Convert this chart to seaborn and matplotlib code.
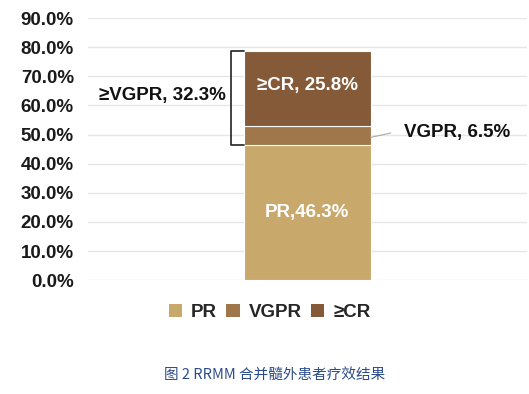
import matplotlib
matplotlib.use("Agg")
import matplotlib.pyplot as plt
import seaborn as sns
import pandas as pd

# data
categories = ["RRMM"]
pr_vals = [0.463]
vgpr_vals = [0.065]
cr_vals = [0.258]
series_names = ["PR", "VGPR", "≥CR"]
series_colors = ["#C9A86C", "#A0764B", "#855A38"]
ytick_vals = [0.0, 0.1, 0.2, 0.3, 0.4, 0.5, 0.6, 0.7, 0.8, 0.9]
caption = "图 2 RRMM 合并髓外患者疗效结果"

sns.set_theme(style="white")
plt.rcParams['font.family'] = ['Liberation Sans', 'DejaVu Sans']

fig = plt.figure(figsize=(5.29, 3.94), dpi=100)
ax = fig.add_axes([0.166, 0.289, 0.830, 0.665])

df = pd.DataFrame({"cat": categories, "PR": pr_vals, "VGPR": vgpr_vals, "CR": cr_vals})
bottoms = [0.0] * len(categories)
for col, name, color in zip(["PR", "VGPR", "CR"], series_names, series_colors):
    sns.barplot(data=df, x="cat", y=col, bottom=bottoms, color=color, width=0.29,
                saturation=1, edgecolor="white", linewidth=0.8, label=name, ax=ax)
    bottoms = [b + v for b, v in zip(bottoms, df[col])]

handles, labels = ax.get_legend_handles_labels()
if ax.get_legend() is not None:
    ax.get_legend().remove()

ax.set_ylim(0, 0.9)
ax.set_xlim(-0.5, 0.5)
ax.set_yticks(ytick_vals)
ax.set_yticklabels([f"{v*100:.1f}%" for v in ytick_vals], fontsize=13.5, fontweight="bold", color="#1A1A1A")
ax.set_xticks([])
ax.set_xlabel("")
ax.set_ylabel("")
ax.tick_params(axis="y", length=0, pad=10)
for s in ax.spines.values():
    s.set_visible(False)
ax.yaxis.grid(True, color="#E6E6E6", linewidth=1)
ax.set_axisbelow(True)

# labels inside bar
ax.text(0, pr_vals[0] / 2, f"PR,{pr_vals[0]*100:.1f}%", color="white", fontsize=13.5,
        fontweight="bold", ha="center", va="center")
ax.text(0, pr_vals[0] + vgpr_vals[0] + cr_vals[0] * 0.55, f"≥CR, {cr_vals[0]*100:.1f}%",
        color="white", fontsize=13.5, fontweight="bold", ha="center", va="center")

# VGPR label with leader line
vg_mid = pr_vals[0] + vgpr_vals[0] / 2
ax.plot([0.145, 0.19], [vg_mid - 0.005, vg_mid + 0.01], color="#AAAAAA", linewidth=0.8)
ax.text(0.22, vg_mid + 0.01, f"VGPR, {vgpr_vals[0]*100:.1f}%", fontsize=13.5,
        fontweight="bold", ha="left", va="center", color="#111111")

# bracket for >=VGPR
top = pr_vals[0] + vgpr_vals[0] + cr_vals[0]
ax.plot([-0.145, -0.175, -0.175, -0.145], [top, top, pr_vals[0], pr_vals[0]],
        color="#222222", linewidth=1.2)
ax.text(-0.33, (top + pr_vals[0]) / 2 + 0.008, f"≥VGPR, {(vgpr_vals[0]+cr_vals[0])*100:.1f}%",
        fontsize=13.5, fontweight="bold", ha="center", va="center", color="#111111")

leg = fig.legend(handles, labels, loc="center", bbox_to_anchor=(0.51, 0.207), ncol=3,
                 frameon=False, handlelength=0.7, handleheight=0.7, handletextpad=0.5,
                 columnspacing=0.5, prop={"size": 13.5, "weight": "bold"})
for h in leg.legend_handles:
    h.set_edgecolor("none")

fig.text(0.52, 0.048, caption, ha="center", va="center", fontsize=10.5,
         color="#2B4C8C", family=["Noto Sans CJK SC", "DejaVu Sans"])

fig.savefig("out.png", dpi=100)
